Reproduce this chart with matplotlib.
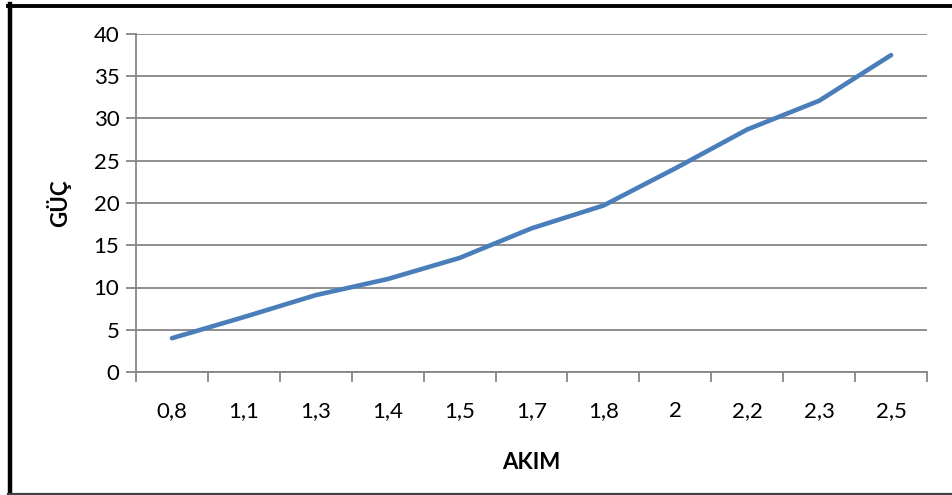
import matplotlib
matplotlib.use("Agg")
import matplotlib.pyplot as plt
from matplotlib.lines import Line2D
import numpy as np

# Current (AKIM) categories and measured power (GÜÇ)
akim_labels = ["0,8", "1,1", "1,3", "1,4", "1,5", "1,7", "1,8", "2", "2,2", "2,3", "2,5"]
guc_values = [4.0, 6.5, 9.1, 11.0, 13.5, 17.0, 19.7, 24.1, 28.7, 32.1, 37.5]
y_ticks = [0, 5, 10, 15, 20, 25, 30, 35, 40]

plt.rcParams["font.family"] = ["Lato", "DejaVu Sans"]

W, H = 953, 495
fig = plt.figure(figsize=(W / 100, H / 100), dpi=100)
fig.patch.set_facecolor("white")

ax = fig.add_axes([136 / W, 1 - 372 / H, (927 - 136) / W, (372 - 34) / H])

x = np.arange(len(akim_labels))
ax.plot(x, guc_values, color="#4A7EBB", linewidth=3.3, solid_capstyle="round",
        solid_joinstyle="round", zorder=3)

grid_color = "#868686"
ax.set_xlim(-0.5, len(akim_labels) - 0.5)
ax.set_ylim(0, 40)
ax.set_yticks(y_ticks)
ax.set_yticklabels([str(v) for v in y_ticks])
ax.yaxis.grid(True, color=grid_color, linewidth=1.3)
ax.set_axisbelow(True)

# category labels centred, tick marks on the category boundaries
ax.set_xticks(x)
ax.set_xticklabels(akim_labels)
ax.set_xticks(np.arange(-0.5, len(akim_labels)), minor=True)
ax.tick_params(axis="x", which="major", length=0, pad=21, labelsize=16)
ax.tick_params(axis="x", which="minor", length=7, width=1.3, color=grid_color)
ax.tick_params(axis="y", which="major", length=7, width=1.3, color=grid_color,
               labelsize=16, pad=5)

for side in ("top", "right"):
    ax.spines[side].set_visible(False)
for side in ("left", "bottom"):
    ax.spines[side].set_color(grid_color)
    ax.spines[side].set_linewidth(1.3)

ax.set_xlabel("AKIM", fontsize=16, fontweight="bold", labelpad=22)
ax.set_ylabel("GÜÇ", fontsize=16, fontweight="bold", labelpad=16)

# outer frame of the chart
fig.add_artist(Line2D([10 / W, 10 / W], [0, 1 - 4 / H], color="black", linewidth=3.2,
                      transform=fig.transFigure))
fig.add_artist(Line2D([8 / W, 1], [1 - 5.5 / H, 1 - 5.5 / H], color="black", linewidth=2.8,
                      transform=fig.transFigure))
fig.add_artist(Line2D([8 / W, 1], [1.5 / H, 1.5 / H], color="#404040", linewidth=1.6,
                      transform=fig.transFigure))

fig.savefig("out.png", dpi=100)
